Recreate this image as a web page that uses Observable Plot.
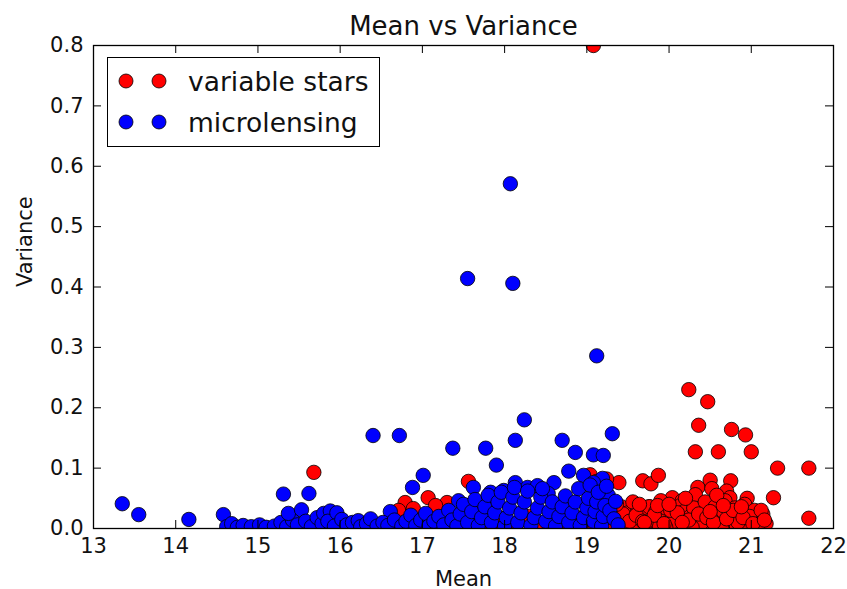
<!DOCTYPE html>
<html>
<head>
<meta charset="utf-8">
<script src="https://cdn.jsdelivr.net/npm/d3@7"></script>
<script src="https://cdn.jsdelivr.net/npm/@observablehq/plot@0.6"></script>
<style>
  html, body { margin: 0; padding: 0; background: #fff; }
  #wrap { position: relative; width: 847px; height: 589px; font-family: "DejaVu Sans", sans-serif; }
  #legend { position: absolute; left: 107px; top: 57px; width: 273px; height: 90px; border: 1.3px solid #000; background: #fff; box-sizing: border-box; }
  .row { position: absolute; left: 0; height: 30px; display: flex; align-items: center; }
  .row svg { margin-left: 10px; }
  .row span { font-size: 26.5px; color: #111; margin-left: 14px; }
</style>
</head>
<body>
<div id="wrap"></div>
<script>
// ---- data ----
const title = "Mean vs Variance";
const xLabel = "Mean";
const yLabel = "Variance";
const seriesNames = ["variable stars", "microlensing"];
const seriesColors = ["#ff0000", "#0000ff"];
const xTicks = [13, 14, 15, 16, 17, 18, 19, 20, 21, 22];
const yTicks = [0, 0.1, 0.2, 0.3, 0.4, 0.5, 0.6, 0.7, 0.8];

// variable stars (red)
const varMean = [
  19.08, 20.24, 20.47, 20.36, 20.76, 20.93, 20.32, 20.60, 21.00, 21.32, 21.70, 21.27, 21.70, 15.68,
  19.39, 19.68, 19.78, 19.87, 20.35, 20.50, 20.52, 20.75, 20.70, 20.04, 20.16, 20.32, 20.74, 20.95,
  21.14, 19.04, 17.56, 17.07, 16.79, 17.30, 17.58, 16.71, 16.89, 17.16, 19.76,
  16.62, 16.78, 16.95, 17.10, 17.25, 17.40, 17.45, 17.62, 17.70, 17.85, 17.98, 18.15, 18.30, 18.45,
  18.60, 18.75, 18.88, 18.98, 19.05, 19.10, 19.15, 19.20, 19.28, 19.32, 19.38, 19.42, 19.46, 19.50,
  19.54, 19.58, 19.62, 19.66, 19.70, 19.74, 19.76, 19.80, 19.84, 19.88, 19.92, 19.96, 20.00, 20.04,
  20.08, 20.12, 20.14, 20.18, 20.22, 20.26, 20.30, 20.34, 20.38, 20.42, 20.44, 20.48, 20.52, 20.56,
  20.60, 20.62, 20.66, 20.68, 20.72, 20.76, 20.80, 20.82, 20.86, 20.88, 20.92, 20.96, 21.00, 21.04,
  21.06, 21.10, 21.14, 21.18, 19.56, 19.90, 20.20, 20.58, 19.62, 20.95, 19.48, 19.72, 20.06, 20.40,
  20.84, 21.08, 19.96, 20.28, 20.64, 20.98,
  19.44, 19.52, 19.60, 19.68, 19.82, 19.94, 20.02, 20.10, 20.24, 20.36, 20.46, 20.54, 20.70, 20.78,
  20.90, 21.02, 21.12, 19.36, 19.64, 19.86, 20.16, 20.50, 20.66, 20.88, 19.18, 19.24, 19.12, 21.16,
  19.70, 20.00
];
const varVariance = [
  0.800, 0.230, 0.210, 0.171, 0.164, 0.155, 0.127, 0.127, 0.127, 0.100, 0.100, 0.051, 0.017, 0.093,
  0.076, 0.079, 0.074, 0.088, 0.068, 0.080, 0.066, 0.079, 0.062, 0.051, 0.046, 0.056, 0.051, 0.050,
  0.018, 0.089, 0.078, 0.051, 0.043, 0.043, 0.038, 0.030, 0.033, 0.038, 0.036,
  0.004, 0.010, 0.006, 0.014, 0.008, 0.018, 0.004, 0.012, 0.024, 0.006, 0.016, 0.008, 0.020, 0.006,
  0.014, 0.004, 0.018, 0.008, 0.025, 0.004, 0.040, 0.014, 0.030, 0.006, 0.020, 0.036, 0.010, 0.026,
  0.004, 0.016, 0.032, 0.008, 0.022, 0.003, 0.036, 0.014, 0.028, 0.005, 0.018, 0.034, 0.010, 0.024,
  0.004, 0.016, 0.038, 0.028, 0.008, 0.020, 0.034, 0.004, 0.014, 0.026, 0.044, 0.008, 0.020, 0.036,
  0.004, 0.014, 0.028, 0.046, 0.008, 0.020, 0.034, 0.004, 0.014, 0.026, 0.040, 0.008, 0.018, 0.030,
  0.004, 0.014, 0.024, 0.008, 0.044, 0.046, 0.050, 0.055, 0.002, 0.003, 0.012, 0.010, 0.012, 0.010,
  0.010, 0.006, 0.002, 0.002, 0.002, 0.020,
  0.024, 0.012, 0.022, 0.012, 0.022, 0.008, 0.030, 0.026, 0.014, 0.024, 0.018, 0.010, 0.016, 0.030,
  0.018, 0.008, 0.030, 0.040, 0.040, 0.038, 0.010, 0.028, 0.038, 0.036, 0.060, 0.082, 0.078, 0.014,
  0.010, 0.040
];

// microlensing (blue)
const microMean = [
  13.35, 13.55, 14.16, 14.58, 15.31, 15.62, 16.40, 16.72, 17.55, 18.07, 18.10, 19.12, 17.37, 17.77,
  18.24, 17.90, 18.13, 18.70, 18.86, 19.08, 19.20, 19.31, 17.01, 16.88, 18.78, 18.60, 17.62, 18.96,
  19.19, 19.08, 19.20, 19.26, 16.61, 17.44, 17.56, 17.83, 17.99, 18.13, 18.28, 18.40, 18.53, 17.86,
  14.62, 14.68, 14.75, 14.82, 14.92, 15.02, 15.10, 15.20, 15.28, 15.35, 15.42, 15.37, 15.53, 15.48,
  15.58, 15.65, 15.72, 15.78, 15.80, 15.88, 15.85, 15.96, 15.93, 16.02, 16.08, 16.15, 16.22, 16.25,
  16.32, 16.37, 16.45, 16.52, 16.58, 16.66, 16.75, 16.80, 16.86, 16.92, 16.98, 17.04, 17.08, 17.14,
  17.20, 17.26, 17.32, 17.36, 17.42, 17.46, 17.50, 17.55, 17.60, 17.64, 17.68, 17.72, 17.76, 17.80,
  17.84, 17.88, 17.92, 17.96, 18.00, 18.02, 18.06, 18.10, 18.12, 18.16, 18.20, 18.24, 18.28, 18.32,
  18.36, 18.40, 18.44, 18.46, 18.50, 18.54, 18.58, 18.62, 18.66, 18.70, 18.74, 18.78, 18.82, 18.86,
  18.90, 18.92, 18.96, 19.00, 19.02, 19.04, 19.08, 19.10, 19.12, 19.14, 19.18, 19.20, 19.22, 19.24,
  19.28, 19.33, 19.35, 19.38
];
const microVariance = [
  0.041, 0.023, 0.015, 0.023, 0.057, 0.058, 0.154, 0.154, 0.414, 0.571, 0.406, 0.286, 0.133, 0.133,
  0.180, 0.105, 0.146, 0.146, 0.126, 0.122, 0.121, 0.157, 0.088, 0.068, 0.095, 0.076, 0.068, 0.088,
  0.083, 0.076, 0.057, 0.055, 0.028, 0.046, 0.038, 0.060, 0.063, 0.076, 0.068, 0.071, 0.058, 0.043,
  0.003, 0.008, 0.002, 0.005, 0.003, 0.006, 0.002, 0.004, 0.010, 0.003, 0.014, 0.025, 0.031, 0.006,
  0.012, 0.003, 0.018, 0.008, 0.025, 0.029, 0.012, 0.026, 0.004, 0.015, 0.006, 0.010, 0.013, 0.003,
  0.008, 0.016, 0.004, 0.010, 0.005, 0.014, 0.004, 0.012, 0.022, 0.005, 0.014, 0.025, 0.004, 0.012,
  0.020, 0.006, 0.030, 0.014, 0.004, 0.024, 0.040, 0.010, 0.028, 0.048, 0.005, 0.018, 0.036, 0.055,
  0.010, 0.026, 0.044, 0.060, 0.004, 0.018, 0.034, 0.052, 0.068, 0.010, 0.026, 0.044, 0.062, 0.005,
  0.018, 0.034, 0.052, 0.066, 0.012, 0.028, 0.044, 0.004, 0.020, 0.036, 0.054, 0.010, 0.026, 0.044,
  0.066, 0.005, 0.018, 0.034, 0.050, 0.072, 0.012, 0.028, 0.044, 0.060, 0.004, 0.020, 0.038, 0.070,
  0.030, 0.016, 0.045, 0.006
];

// ---- build tables ----
const redPts = varMean.map((m, i) => ({mean: m, variance: varVariance[i]}));
const bluePts = microMean.map((m, i) => ({mean: m, variance: microVariance[i]}));

const W = 847, H = 589;
const mL = 93, mR = 14, mT = 45, mB = 61;
const innerW = W - mL - mR, innerH = H - mT - mB;
const tickLen = 8;
const font = "DejaVu Sans";

const chart = Plot.plot({
  width: W, height: H,
  marginLeft: mL, marginRight: mR, marginTop: mT, marginBottom: mB,
  style: {fontFamily: font, background: "#fff", color: "#111"},
  x: {domain: [13, 22]},
  y: {domain: [0, 0.8]},
  marks: [
    Plot.dot(redPts, {x: "mean", y: "variance", r: 7.2, fill: seriesColors[0], stroke: "#000", strokeWidth: 0.8, clip: true}),
    Plot.dot(bluePts, {x: "mean", y: "variance", r: 7.2, fill: seriesColors[1], stroke: "#000", strokeWidth: 0.8, clip: true}),
    Plot.frame({stroke: "#000", strokeWidth: 1.3}),
    Plot.tickX(xTicks, {x: d => d, insetTop: innerH - tickLen, stroke: "#000"}),
    Plot.tickX(xTicks, {x: d => d, insetBottom: innerH - tickLen, stroke: "#000"}),
    Plot.tickY(yTicks, {y: d => d, insetRight: innerW - tickLen, stroke: "#000"}),
    Plot.tickY(yTicks, {y: d => d, insetLeft: innerW - tickLen, stroke: "#000"}),
    Plot.axisX(xTicks, {tickSize: 0, tickPadding: 10, fontSize: 21, label: null, tickFormat: d => String(d)}),
    Plot.axisY(yTicks, {tickSize: 0, tickPadding: 10, fontSize: 21, label: null, tickFormat: d3.format(".1f")}),
    Plot.text([title], {frameAnchor: "top", lineAnchor: "bottom", dy: -11, fontSize: 26, fill: "#111"}),
    Plot.text([xLabel], {frameAnchor: "bottom", lineAnchor: "bottom", dy: 57, fontSize: 21, fill: "#111"}),
    Plot.text([yLabel], {frameAnchor: "left", rotate: -90, lineAnchor: "middle", dx: -68, fontSize: 21, fill: "#111"})
  ]
});

const wrap = document.getElementById("wrap");
wrap.appendChild(chart);

// legend (HTML overlay)
const legend = document.createElement("div");
legend.id = "legend";
seriesNames.forEach((name, i) => {
  const row = document.createElement("div");
  row.className = "row";
  row.style.top = (i === 0 ? 8 : 49) + "px";
  const c = seriesColors[i];
  row.innerHTML = `<svg width="56" height="16" viewBox="0 0 56 16">
      <circle cx="8" cy="8" r="7" fill="${c}" stroke="#000" stroke-width="0.8"/>
      <circle cx="41" cy="8" r="7" fill="${c}" stroke="#000" stroke-width="0.8"/>
    </svg><span>${name}</span>`;
  legend.appendChild(row);
});
wrap.appendChild(legend);
</script>
</body>
</html>
